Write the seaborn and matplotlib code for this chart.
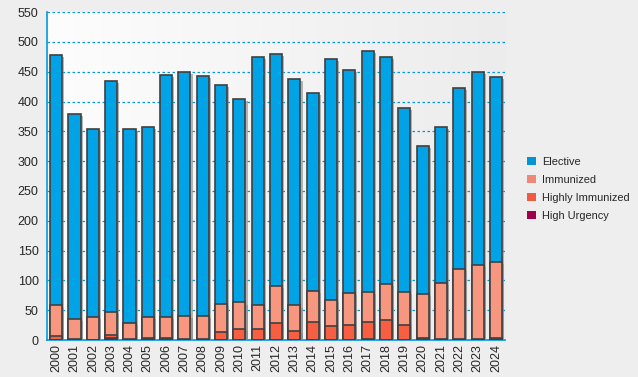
import numpy as np
import pandas as pd
import seaborn as sns
import matplotlib.pyplot as plt
import matplotlib.patheffects as pe
from matplotlib.patches import Patch
from matplotlib.colors import LinearSegmentedColormap

years = [str(y) for y in range(2000, 2025)]
high_urgency = [0, 0, 0, 4, 0, 1, 1, 0, 0, 0, 0, 0, 0, 0, 0, 0, 0, 2, 0, 0, 1, 0, 0, 0, 2]
highly_immunized = [7, 2, 0, 4, 2, 3, 3, 2, 2, 13, 18, 18, 28, 16, 30, 23, 25, 28, 33, 25, 2, 2, 2, 2, 1]
immunized = [51, 33, 38, 39, 26, 34, 34, 39, 38, 47, 45, 40, 62, 42, 52, 45, 54, 50, 61, 55, 74, 93, 117, 124, 128]
elective = [420, 344, 316, 388, 326, 319, 407, 409, 403, 368, 342, 417, 390, 380, 332, 404, 374, 405, 381, 309, 248, 262, 304, 324, 310]

series = ["High Urgency", "Highly Immunized", "Immunized", "Elective"]
colors = {"Elective": "#00A4E6", "Immunized": "#F8977F",
          "Highly Immunized": "#F85E42", "High Urgency": "#A0004C"}
legend_colors = {"Elective": "#0096D6", "Immunized": "#F0887A",
                 "Highly Immunized": "#F05A40", "High Urgency": "#A0004C"}

stack = np.cumsum([high_urgency, highly_immunized, immunized, elective], axis=0)
df = pd.DataFrame({"year": years})
for name, vals in zip(series, stack):
    df[name] = vals

sns.set_style("white")
plt.rcParams["font.family"] = ["Liberation Sans", "DejaVu Sans"]
fig = plt.figure(figsize=(6.38, 3.77), dpi=100, facecolor="#EEEEEE")
ax = fig.add_axes([0.0737, 0.098, 0.718, 0.870])

# fond en dégradé
grad = np.linspace(0, 1, 256).reshape(1, -1)
ax.imshow(grad, extent=[0, 1, 0, 1], transform=ax.transAxes, aspect="auto",
          cmap=LinearSegmentedColormap.from_list("bg", ["#FDFDFD", "#ECECEC"]), zorder=0)

shadow = [pe.SimplePatchShadow(offset=(1.5, -1.5), shadow_rgbFace="#888888", alpha=0.6), pe.Normal()]
for name in reversed(series):
    sns.barplot(data=df, x="year", y=name, color=colors[name], width=0.66,
                edgecolor="#404040", linewidth=1.2, saturation=1, ax=ax, zorder=3)
for p in ax.patches:
    p.set_path_effects(shadow)

ax.set_ylim(0, 550)
ax.set_xlim(-0.45, 24.5)
ax.set_yticks(range(0, 551, 50))
ax.set_xticks(np.arange(-0.5, 24.6, 1), minor=True)
ax.set_xticks(range(len(years)))
ax.set_xticklabels(years, rotation=90)
ax.tick_params(axis="x", which="major", length=0, labelsize=9, pad=3)
ax.tick_params(axis="x", which="minor", length=4, color="#0099DD", width=1)
ax.tick_params(axis="y", length=4, color="#0099DD", labelsize=9, pad=2)
ax.set_xlabel("")
ax.set_ylabel("")
ax.yaxis.grid(True, linestyle=(0, (2, 2)), color="#0099DD", linewidth=0.9, zorder=1)
ax.set_axisbelow(True)
for s in ["top", "right"]:
    ax.spines[s].set_visible(False)
for s in ["left", "bottom"]:
    ax.spines[s].set_color("#0099DD")
    ax.spines[s].set_linewidth(1.2)

handles = [Patch(facecolor=legend_colors[n], edgecolor="none", label=n) for n in reversed(series)]
fig.legend(handles=handles, loc="upper left", bbox_to_anchor=(0.826, 0.584),
           frameon=False, fontsize=7.9, handlelength=0.8, handleheight=0.8,
           handletextpad=0.6, labelspacing=0.72, borderpad=0, borderaxespad=0)

fig.savefig("out.png", dpi=100, facecolor=fig.get_facecolor())
